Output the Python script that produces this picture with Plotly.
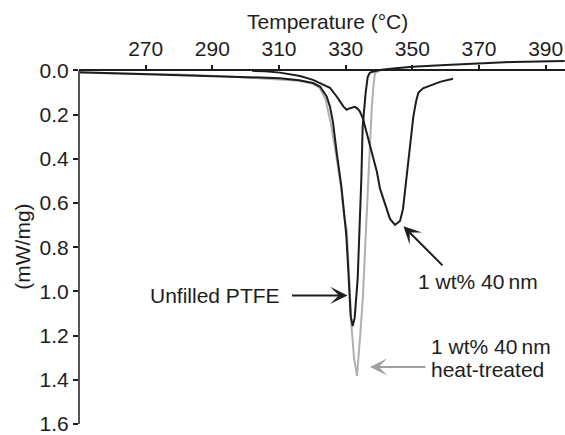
import plotly.graph_objects as go

# ---------------- data ----------------
temp_unfilled = [250.3, 265, 280, 295, 310.3, 316, 320.2, 322.3, 324.3, 325.3, 326.2,
                 327.3, 328.7, 329.7, 330.2, 330.7, 331.1, 331.5, 332.1, 332.7, 333.6,
                 334.2, 334.7, 335.1, 335.5, 336.0, 336.6, 337.2, 337.8, 340.2, 345,
                 350, 360, 370, 380, 395.7]
dsc_unfilled = [0.008, 0.015, 0.022, 0.028, 0.035, 0.045, 0.057, 0.073, 0.118, 0.165, 0.235,
                0.371, 0.524, 0.672, 0.748, 0.88, 1.018, 1.112, 1.157, 1.12, 0.942,
                0.717, 0.492, 0.254, 0.17, 0.101, 0.03, 0.012, 0.007, -0.002, -0.010,
                -0.017, -0.025, -0.033, -0.038, -0.043]

temp_heat = [250.3, 265, 280, 295, 310.3, 316, 320.2, 322.2, 324.0, 325.6, 327.1, 328.6,
             329.65, 330.3, 331.0, 331.8, 332.5, 333.4, 334.3, 335.2, 336.1, 336.7,
             337.3, 337.8, 338.3, 338.8, 340.3, 343]
dsc_heat = [0.011, 0.014, 0.018, 0.028, 0.040, 0.047, 0.061, 0.079, 0.133, 0.245, 0.38,
            0.528, 0.672, 0.717, 0.92, 1.166, 1.30, 1.382, 1.211, 1.018, 0.717, 0.524,
            0.312, 0.177, 0.074, 0.011, 0.0, -0.006]

temp_filled = [301.9, 305.8, 310.3, 316.3, 320.2, 322.9, 325.3, 327.3, 329.3, 330.3,
               331.3, 332.8, 333.7, 334.3, 335.2, 335.8, 337.3, 339.4, 340.3, 341.8,
               343.3, 344.8, 346.3, 347.2, 347.8, 348.4, 348.8, 349.5, 350.3, 351.1,
               351.8, 353.2, 354.4, 358.3, 362.2]
dsc_filled = [0.002, 0.004, 0.010, 0.025, 0.043, 0.061, 0.079, 0.118, 0.163, 0.178,
              0.171, 0.165, 0.175, 0.187, 0.218, 0.254, 0.344, 0.461, 0.535, 0.609,
              0.672, 0.699, 0.681, 0.627, 0.546, 0.456, 0.389, 0.312, 0.209, 0.142,
              0.101, 0.081, 0.074, 0.052, 0.038]

x_ticks = [270, 290, 310, 330, 350, 370, 390]
y_ticks = [0.0, 0.2, 0.4, 0.6, 0.8, 1.0, 1.2, 1.4, 1.6]

x_title = "Temperature (°C)"
y_title = "(mW/mg)"
label_unfilled = "Unfilled PTFE"
label_filled = "1 wt% 40\u2009nm"
label_heat = ["1 wt% 40\u2009nm", "heat-treated"]

# ---------------- layout geometry ----------------
W, H = 565, 435
ML, MR, MT, MB = 79, 0, 57, 7.5
X0 = 250.0
PX_PER_C = 10.0 / 3.0
Y0PX = 70.5
Y_BOTTOM_PX = 426.5
PX_PER_UNIT = 222.5
plot_w = W - ML - MR
plot_h = H - MT - MB
x_range = [X0, X0 + plot_w / PX_PER_C]
y_range = [(H - MB - Y0PX) / PX_PER_UNIT, -(Y0PX - MT) / PX_PER_UNIT]


def pxx(px):
    return (px - ML) / plot_w


def pxy(py):
    return (H - MB - py) / plot_h


INK = "#1e1c1d"
GREY = "#b0b0b0"
FONT = "Liberation Sans, Arial, Helvetica, sans-serif"
FS = 21

fig = go.Figure()
fig.add_trace(go.Scatter(x=temp_heat, y=dsc_heat, mode="lines",
                         line=dict(color=GREY, width=2), hoverinfo="skip", showlegend=False))
fig.add_trace(go.Scatter(x=temp_unfilled, y=dsc_unfilled, mode="lines",
                         line=dict(color=INK, width=2), hoverinfo="skip", showlegend=False))
fig.add_trace(go.Scatter(x=temp_filled, y=dsc_filled, mode="lines",
                         line=dict(color=INK, width=2), hoverinfo="skip", showlegend=False))

ARROW = dict(showarrow=True, arrowhead=3, arrowsize=1.45, arrowwidth=2)
TXT = dict(showarrow=False, borderpad=0, borderwidth=0, font=dict(size=FS, color=INK))

annotations = [
    # axis titles
    dict(text=x_title, xref="paper", yref="paper", x=pxx(327.3), y=pxy(21),
         xanchor="center", yanchor="middle", **TXT),
    dict(text=y_title, xref="paper", yref="paper", x=pxx(23), y=pxy(248),
         xanchor="center", yanchor="middle", textangle=-90, **TXT),
    # labels
    dict(text=label_unfilled, xref="paper", yref="paper", x=pxx(280), y=pxy(297),
         xanchor="right", yanchor="middle", **TXT),
    dict(text=label_filled, xref="paper", yref="paper", x=pxx(418), y=pxy(283),
         xanchor="left", yanchor="middle", **TXT),
    dict(text=label_heat[0], xref="paper", yref="paper", x=pxx(431), y=pxy(348),
         xanchor="left", yanchor="middle", **TXT),
    dict(text=label_heat[1], xref="paper", yref="paper", x=pxx(431), y=pxy(372),
         xanchor="left", yanchor="middle", **TXT),
    # arrows
    dict(text="", xref="paper", yref="paper", x=pxx(347.5), y=pxy(297), ax=-57, ay=0,
         arrowcolor=INK, **ARROW),
    dict(text="", xref="paper", yref="paper", x=pxx(403.5), y=pxy(227.5), ax=40.5, ay=40.5,
         arrowcolor=INK, **ARROW),
    dict(text="", xref="paper", yref="paper", x=pxx(370), y=pxy(369), ax=57, ay=0,
         arrowcolor="#a0a0a0", **ARROW),
]

fig.update_layout(
    width=W, height=H,
    margin=dict(l=ML, r=MR, t=MT, b=MB, pad=0),
    paper_bgcolor="white", plot_bgcolor="white",
    font=dict(family=FONT, size=FS, color=INK),
    showlegend=False,
    xaxis=dict(range=x_range, side="top", anchor="free", position=pxy(Y0PX),
               showline=True, linecolor=INK, linewidth=1.5,
               ticks="outside", ticklen=5, tickwidth=1.5, tickcolor=INK,
               tickvals=x_ticks, showgrid=False, zeroline=False,
               ticklabeloverflow="allow",
               tickfont=dict(size=FS, color=INK)),
    yaxis=dict(range=y_range, showline=False,
               ticks="outside", ticklen=5, tickwidth=1.5, tickcolor=INK,
               tickvals=y_ticks, tickformat=".1f", showgrid=False, zeroline=False,
               ticklabeloverflow="allow",
               tickfont=dict(size=FS, color=INK)),
    shapes=[dict(type="line", xref="paper", yref="paper", x0=0, x1=0,
                 y0=pxy(Y_BOTTOM_PX), y1=pxy(Y0PX), line=dict(color=INK, width=1.5))],
    annotations=annotations,
)

fig.write_html("out.html")
